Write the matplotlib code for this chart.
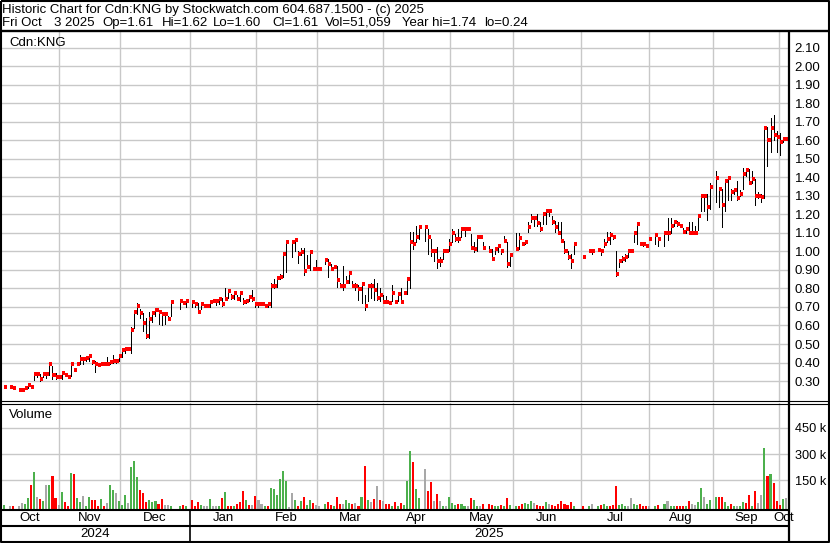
import numpy as np
import matplotlib
matplotlib.use('Agg')
import matplotlib.pyplot as plt

plt.rcParams['font.family'] = ['Liberation Sans', 'DejaVu Sans']
nan = np.nan

# ---------- Daily bars, Oct 2024 -> Oct 3 2025 (one entry per trading day) ----------
close = [
    .27, nan, .27, .26, nan, .25, .25, .26, .28, .27,
    .336, .336, .31, .336, .336, .394, .33, .32, .32, .345,
    .33, .32, .394, .358, .394, .417, .417, .426, .437, .404,
    .394, .388, .394, .39, .39, .404, .41, .41, .437, .466,
    .471, .471, .576, .671, .707, .666, .615, .543, .635, .67,
    .685, .675, .66, .66, .635, .729, nan, nan, .734, .72,
    .73, nan, .727, .716, .674, .716, .705, .705, .727, .733,
    .733, .745, .716, .745, .788, .756, .777, .745, .777, .729,
    .733, .756, .745, .716, .716, .716, .705, .716, .816, .816,
    .859, .864, .987, 1.049, nan, 1.049, 1.06, .987, .996, .897,
    .918, .996, .906, .906, .906, nan, .955, .931, .906, .917,
    .846, .814, .814, .837, .886, .814, .814, .797, .825, .707,
    .814, .814, .792, .747, .765, .729, .729, .72, .777, .729,
    .769, .729, .777, .851, 1.052, 1.04, 1.079, 1.133, nan, 1.133,
    1.079, 1.0, 1.0, .95, .95, 1.0, 1.0, 1.04, 1.10, 1.067,
    1.067, 1.12, 1.12, 1.12, 1.02, 1.013, 1.079, 1.079, 1.02, nan,
    1.004, .96, 1.013, 1.03, 1.0, 1.054, .932, .982, nan, 1.013,
    1.072, 1.043, 1.052, 1.133, 1.18, 1.18, 1.153, 1.12, 1.20, 1.221,
    1.221, 1.16, 1.133, 1.10, 1.054, 1.0, .97, .95, 1.043, nan,
    nan, .97, nan, 1.0, 1.0, nan, 1.009, 1.0, 1.04, 1.067,
    1.09, 1.08, .878, .95, .96, .97, 1.0, 1.0, 1.10, 1.15,
    1.04, 1.04, 1.03, 1.066, nan, 1.087, 1.066, nan, 1.098, 1.098,
    1.138, 1.159, 1.147, 1.138, 1.107, 1.12, 1.098, 1.098, 1.098, 1.19,
    1.30, 1.30, 1.24, 1.35, nan, 1.397, 1.336, 1.25, 1.38, 1.395,
    1.32, 1.33, 1.29, 1.31, 1.42, 1.44, 1.37, 1.39, 1.30, 1.30,
    1.295, 1.665, 1.60, 1.665, 1.63, 1.62, 1.59, 1.61, 1.61,
]
high = [
    .27, nan, .27, .265, nan, .25, .255, .26, .29, .28,
    .35, .345, .34, .345, .34, .40, .38, .345, .32, .345,
    .33, .325, .40, .37, .394, .44, .43, .435, .44, .41,
    .41, .39, .40, .39, .43, .404, .44, .41, .44, .47,
    .48, .475, .594, .675, .723, .69, .67, .64, .675, .68,
    .69, .685, .675, .66, .65, .73, nan, nan, .735, .72,
    .735, nan, .73, .72, .72, .725, .71, .71, .733, .738,
    .738, .75, .746, .80, .79, .77, .78, .765, .78, .75,
    .735, .76, .79, .72, .72, .72, .716, .72, .83, .85,
    .86, .88, .99, 1.054, nan, 1.054, 1.065, 1.0, 1.02, 1.02,
    .98, 1.0, .91, .955, .91, nan, .96, .96, .93, .92,
    .92, .83, .92, .87, .89, .84, .83, .82, .83, .765,
    .82, .83, .85, .83, .80, .765, .76, .73, .82, .735,
    .775, .80, .78, .86, 1.103, 1.103, 1.138, 1.133, nan, 1.133,
    1.12, 1.066, 1.004, 1.022, .968, 1.004, 1.0, 1.066, 1.124, 1.094,
    1.12, 1.124, 1.12, 1.12, 1.094, 1.049, 1.085, 1.08, 1.049, nan,
    1.03, 1.013, 1.013, 1.033, 1.013, 1.085, 1.049, .986, nan, 1.10,
    1.10, 1.049, 1.058, 1.16, 1.20, 1.18, 1.20, 1.157, 1.20, 1.221,
    1.221, 1.193, 1.166, 1.157, 1.16, 1.058, 1.0, .986, 1.043, nan,
    nan, .97, nan, 1.0, 1.013, nan, 1.009, 1.013, 1.067, 1.103,
    1.103, 1.09, 1.0, .959, .977, .986, 1.013, 1.0, 1.103, 1.157,
    1.04, 1.045, 1.035, 1.07, nan, 1.09, 1.075, nan, 1.10, 1.18,
    1.18, 1.168, 1.165, 1.14, 1.128, 1.128, 1.16, 1.16, 1.14, 1.19,
    1.30, 1.30, 1.31, 1.37, nan, 1.435, 1.345, 1.34, 1.39, 1.40,
    1.34, 1.34, 1.38, 1.33, 1.45, 1.445, 1.445, 1.435, 1.39, 1.32,
    1.31, 1.67, 1.67, 1.72, 1.74, 1.65, 1.64, 1.62, 1.62,
]
low = [
    .27, nan, .27, .26, nan, .25, .25, .255, .26, .265,
    .305, .32, .30, .32, .315, .33, .31, .31, .32, .31,
    .33, .32, .325, .355, .39, .39, .39, .41, .41, .39,
    .35, .385, .39, .385, .39, .39, .40, .40, .41, .43,
    .45, .465, .45, .585, .662, .64, .57, .53, .53, .62,
    .65, .61, .60, .61, .63, .65, nan, nan, .687, .72,
    .698, nan, .698, .70, .674, .69, .70, .70, .70, .73,
    .71, .715, .705, .74, .75, .745, .745, .74, .73, .715,
    .72, .73, .73, .698, .70, .71, .698, .698, .70, .80,
    .81, .85, .864, .89, nan, .97, 1.0, .94, .98, .873,
    .91, .90, .90, .90, .90, nan, .93, .86, .90, .91,
    .81, .81, .79, .83, .83, .81, .79, .74, .72, .684,
    .73, .75, .74, .74, .73, .73, .73, .72, .73, .729,
    .73, .73, .775, .77, .80, 1.013, 1.05, 1.066, nan, 1.057,
    .985, .976, .95, .912, .923, .959, 1.0, 1.004, 1.049, 1.058,
    1.05, 1.076, 1.085, 1.12, 1.013, .995, 1.004, 1.079, 1.013, nan,
    .995, .96, .986, .995, .986, 1.049, .914, .923, nan, 1.013,
    1.013, 1.036, 1.04, 1.103, 1.157, 1.139, 1.139, 1.112, 1.148, 1.148,
    1.193, 1.148, 1.103, 1.094, 1.049, .994, .96, .912, .986, nan,
    nan, .97, nan, 1.0, .986, nan, 1.009, .982, 1.022, 1.049,
    1.04, 1.067, .867, .914, .941, .95, .968, 1.0, 1.049, 1.04,
    1.04, 1.03, 1.025, 1.06, nan, 1.04, 1.03, nan, 1.03, 1.06,
    1.10, 1.14, 1.135, 1.13, 1.10, 1.10, 1.098, 1.098, 1.098, 1.115,
    1.22, 1.22, 1.17, 1.23, nan, 1.27, 1.24, 1.13, 1.22, 1.28,
    1.28, 1.31, 1.28, 1.30, 1.34, 1.41, 1.365, 1.37, 1.25, 1.29,
    1.27, 1.29, 1.46, 1.54, 1.60, 1.54, 1.52, 1.59, 1.60,
]
# volume in thousands of shares
volume = [
    8, 0, 1, 2, 0, 5, 21, 13, 50, 123,
    200, 56, 42, 31, 123, 123, 175, 50, 10, 85,
    25, 1, 194, 187, 50, 25, 60, 2, 54, 37,
    37, 2, 42, 3, 21, 123, 94, 79, 31, 10,
    65, 21, 229, 263, 169, 94, 79, 27, 37, 27,
    33, 13, 42, 8, 8, 2, 0, 0, 4, 8,
    2, 0, 37, 2, 25, 8, 1, 1, 42, 2,
    2, 2, 50, 83, 1, 2, 2, 13, 25, 90,
    37, 8, 8, 60, 38, 13, 2, 2, 108, 100,
    65, 158, 204, 146, 0, 77, 37, 2, 31, 54,
    8, 37, 21, 10, 1, 0, 13, 25, 8, 1,
    54, 13, 13, 37, 21, 13, 21, 2, 54, 233,
    37, 25, 42, 117, 37, 31, 13, 13, 2, 25,
    1, 21, 10, 146, 319, 256, 102, 50, 0, 215,
    88, 140, 31, 71, 31, 2, 1, 54, 19, 10,
    13, 13, 2, 1, 48, 37, 1, 1, 13, 0,
    13, 8, 2, 1, 8, 1, 48, 8, 0, 2,
    2, 13, 19, 13, 31, 19, 8, 2, 2, 25,
    13, 8, 2, 13, 31, 13, 8, 25, 2, 0,
    0, 2, 0, 1, 13, 0, 1, 8, 13, 2,
    1, 8, 117, 8, 13, 2, 1, 48, 13, 10,
    13, 1, 2, 1, 0, 2, 8, 0, 13, 31,
    1, 2, 1, 1, 2, 1, 31, 13, 10, 25,
    108, 54, 13, 37, 0, 54, 54, 54, 25, 2,
    13, 2, 1, 2, 25, 21, 65, 2, 88, 19,
    65, 337, 175, 187, 135, 31, 10, 42, 51,
]
# g = up day, r = down day, n = unchanged, - = no trade
vol_dir = ("g-nr-nnggr" "gnrgngrrng" "rrgrggnggr" "rrgrnggngg" "gngggrrrgg"
           "grrnng--gr" "g-rrrgnngn" "ngrgrrgrrr" "grnrnngrgg" "ggggnngrgr"
           "ggrnn-grrg" "rrnggrnrgr" "gnrnrnrrgr" "grgggrgg-n" "rrnrngnggg"
           "rggnrggnr-" "rrggrgrg-g" "rrgggnrrrg" "nrrrrrrrg-" "-r-gn-grgg"
           "rrrgggnngg" "rrrn-gr-gn" "ggrrrgrnng" "gngg-grrgg" "rgnggrrgrn"
           "ngrgrrrgn")

# month boundaries (in bar index units) and labels
month_bounds = [18.2, 38.3, 61.4, 83.2, 103.3, 125.1, 147.2, 168.0, 190.4, 212.9, 234.0, 255.8]
month_names = ['Oct', 'Nov', 'Dec', 'Jan', 'Feb', 'Mar', 'Apr', 'May', 'Jun', 'Jul', 'Aug', 'Sep', 'Oct']
years = ['2024', '2025']
price_ticks = [round(0.3 + 0.1 * k, 2) for k in range(19)]
vol_ticks = [150, 300, 450]

header1 = "Historic Chart for Cdn:KNG by Stockwatch.com 604.687.1500 - (c) 2025"
header2 = ["Fri Oct", "3 2025", "Op=1.61", "Hi=1.62", "Lo=1.60", "Cl=1.61",
           "Vol=51,059", "Year hi=1.74", "lo=0.24"]
header2_x = [2, 54, 102, 162, 213, 272, 325, 402, 484]

# ---------- Layout (pixel boxes) ----------
W, H = 830, 543
fig = plt.figure(figsize=(W / 100, H / 100), dpi=100)
fig.patch.set_facecolor('white')


def box(l, t, r, b):
    return [l / W, 1 - b / H, (r - l) / W, (b - t) / H]


ax_p = fig.add_axes(box(0, 32, 789, 401))
ax_v = fig.add_axes(box(0, 403, 789, 509))
ax_d = fig.add_axes(box(0, 509, 789, 542))

idx = np.arange(len(close))
c = np.array(close, dtype=float)
h = np.array(high, dtype=float)
l = np.array(low, dtype=float)
v = np.array(volume, dtype=float)
ok = ~np.isnan(c)
xlim = (-1.32, 259.1)
grid_col = '#c8c8c8'
fsz = 9.5

# ---------- Price panel ----------
for b in month_bounds:
    ax_p.axvline(b, color=grid_col, lw=1.0, zorder=0)
ax_p.vlines(idx[ok], l[ok], h[ok], color='black', lw=0.72, antialiased=False, zorder=3)
ax_p.hlines(c[ok], idx[ok], idx[ok] + 1.0, color='red', lw=1.45, antialiased=False, zorder=4)
ax_p.set_xlim(*xlim)
ax_p.set_ylim(0.192, 2.186)
ax_p.set_yticks(price_ticks)
ax_p.set_yticklabels([f'{t:.2f}' for t in price_ticks])
ax_p.grid(axis='y', color=grid_col, lw=1.0)
ax_p.set_axisbelow(True)
ax_p.yaxis.tick_right()
ax_p.tick_params(axis='y', length=0, pad=4, labelsize=fsz)
ax_p.set_xticks([])
for s in ax_p.spines.values():
    s.set_visible(False)

# ---------- Volume panel ----------
colmap = {'g': '#4cb04c', 'r': '#ff0000', 'n': '#a8a8a8'}
vbase = -14.3
vcols = [colmap.get(d, 'white') for d in vol_dir]
okv = np.array([d != '-' for d in vol_dir])
for b in month_bounds:
    ax_v.axvline(b, color=grid_col, lw=1.0, zorder=0)
ax_v.bar(idx[okv], v[okv] - vbase, bottom=vbase, width=0.68,
         color=[vcols[i] for i in idx[okv]], linewidth=0, antialiased=False, zorder=3)
ax_v.set_xlim(*xlim)
ax_v.set_ylim(vbase, 592.6)
ax_v.set_yticks(vol_ticks)
ax_v.set_yticklabels([f'{t} k' for t in vol_ticks])
ax_v.grid(axis='y', color=grid_col, lw=1.0)
ax_v.set_axisbelow(True)
ax_v.yaxis.tick_right()
ax_v.tick_params(axis='y', length=0, pad=4, labelsize=fsz - 0.3)
ax_v.set_xticks([])
for s in ax_v.spines.values():
    s.set_visible(False)

# ---------- Date axis ----------
ax_d.set_xlim(*xlim)
ax_d.set_ylim(0, 1)
ax_d.axis('off')
edges = [xlim[0]] + month_bounds + [xlim[1]]
for k, name in enumerate(month_names):
    ax_d.text((edges[k] + edges[k + 1]) / 2, 0.74, name, ha='center', va='center', fontsize=fsz)
jan = month_bounds[2]
ax_d.text((xlim[0] + jan) / 2, 0.24, years[0], ha='center', va='center', fontsize=fsz)
ax_d.text((jan + xlim[1]) / 2, 0.24, years[1], ha='center', va='center', fontsize=fsz)
ax_d.axvline(jan, color='black', lw=1.2)

# ---------- Frame, header and panel captions (pixel overlay) ----------
ax_f = fig.add_axes([0, 0, 1, 1])
ax_f.set_xlim(0, W)
ax_f.set_ylim(H, 0)
ax_f.axis('off')
k = dict(color='black', solid_capstyle='butt')
ax_f.plot([1, 1, W - 1, W - 1, 1], [1, H - 1, H - 1, 1, 1], lw=1.5, **k)
ax_f.plot([0, W], [30.5, 30.5], lw=1.7, **k)
ax_f.plot([789, 789], [31, H], lw=1.6, **k)
ax_f.plot([0, W], [401, 401], lw=0.8, **k)
ax_f.plot([0, W], [403.5, 403.5], lw=0.8, **k)
ax_f.plot([0, 789], [510, 510], lw=1.5, **k)
ax_f.plot([0, 789], [526, 526], lw=1.5, **k)
ax_f.text(2, 13.3, header1, fontsize=fsz, va='baseline')
for txt, x in zip(header2, header2_x):
    ax_f.text(x, 25.7, txt, fontsize=fsz, va='baseline')
ax_f.text(9, 45.7, 'Cdn:KNG', fontsize=fsz, va='baseline')
ax_f.text(9, 418.3, 'Volume', fontsize=fsz, va='baseline')

fig.savefig('out.png', dpi=100)
